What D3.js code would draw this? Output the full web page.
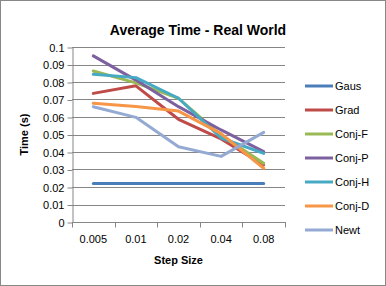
<!DOCTYPE html>
<html>
<head>
<meta charset="utf-8">
<script src="https://cdn.jsdelivr.net/npm/d3@7"></script>
<style>
  body { margin: 0; background: #fff; }
  svg { font-family: "Liberation Sans", Arial, sans-serif; }
  .axis path, .axis line { stroke: #868686; }
  .axis text { font-size: 11px; fill: #000; }
</style>
</head>
<body>
<div id="chart"></div>
<script>
// Step sizes (categories)
const steps = ["0.005", "0.01", "0.02", "0.04", "0.08"];

// Series values
const gaus  = [0.022, 0.022, 0.022, 0.022, 0.022];
const grad  = [0.0735, 0.0778, 0.0587, 0.0475, 0.0326];
const conjF = [0.0863, 0.0795, 0.0707, 0.0495, 0.0335];
const conjP = [0.0949, 0.0811, 0.0659, 0.0526, 0.0402];
const conjH = [0.0844, 0.0825, 0.0707, 0.0480, 0.0392];
const conjD = [0.0678, 0.0660, 0.0634, 0.0505, 0.0307];
const newt  = [0.0659, 0.0598, 0.0430, 0.0375, 0.0512];

const yTicks = [0, 0.01, 0.02, 0.03, 0.04, 0.05, 0.06, 0.07, 0.08, 0.09, 0.1];

const series = [
    {name: "Gaus",   values: gaus,  color: "#4A7EBB"},
    {name: "Grad",   values: grad,  color: "#BE4B48"},
    {name: "Conj-F", values: conjF, color: "#98B954"},
    {name: "Conj-P", values: conjP, color: "#7D60A0"},
    {name: "Conj-H", values: conjH, color: "#46AAC5"},
    {name: "Conj-D", values: conjD, color: "#F79646"},
    {name: "Newt",   values: newt,  color: "#94AAD2"}
];

const W = 386, H = 286;
const plot = {left: 72, right: 285, top: 47, bottom: 222};

const svg = d3.select("#chart")
    .append("svg")
    .attr("width", W)
    .attr("height", H);

// outer frame
svg.append("rect")
    .attr("x", 0.5).attr("y", 0.5)
    .attr("width", W - 1).attr("height", H - 1)
    .attr("fill", "#fff")
    .attr("stroke", "#888");

const x = d3.scaleBand()
    .domain(steps)
    .range([plot.left, plot.right]);

const y = d3.scaleLinear()
    .domain([0, 0.1])
    .range([plot.bottom, plot.top]);

// gridlines
svg.append("g")
    .selectAll("line")
    .data(yTicks.slice(1))
    .enter()
    .append("line")
    .attr("x1", plot.left).attr("x2", plot.right)
    .attr("y1", d => Math.round(y(d)) + 0.5)
    .attr("y2", d => Math.round(y(d)) + 0.5)
    .style("stroke", "#868686");

// y axis
const yAxis = svg.append("g")
    .attr("class", "axis")
    .attr("transform", `translate(${plot.left + 0.5},0.5)`)
    .call(d3.axisLeft(y).tickValues(yTicks).tickSize(5).tickSizeOuter(0)
        .tickFormat(d => d === 0 ? "0" : d3.format(".2~f")(d)));
yAxis.selectAll("text").attr("x", -8);

// x axis with ticks at band boundaries
const xAxis = svg.append("g")
    .attr("class", "axis")
    .attr("transform", `translate(0,${plot.bottom + 0.5})`);
xAxis.append("line")
    .attr("x1", plot.left).attr("x2", plot.right + 1)
    .attr("y1", 0).attr("y2", 0);
const edges = steps.map(s => x(s)).concat([plot.right]);
xAxis.selectAll(".tk")
    .data(edges)
    .enter()
    .append("line")
    .attr("x1", d => Math.round(d) + 0.5).attr("x2", d => Math.round(d) + 0.5)
    .attr("y1", 0).attr("y2", 5);
xAxis.selectAll(".lbl")
    .data(steps)
    .enter()
    .append("text")
    .attr("x", d => x(d) + x.bandwidth() / 2)
    .attr("y", 20)
    .attr("text-anchor", "middle")
    .text(d => d);

// lines
const line = d3.line()
    .x((d, i) => x(steps[i]) + x.bandwidth() / 2)
    .y(d => y(d));

svg.append("g")
    .selectAll("path")
    .data(series)
    .enter()
    .append("path")
    .attr("d", d => line(d.values))
    .attr("fill", "none")
    .attr("stroke", d => d.color)
    .attr("stroke-width", 3)
    .attr("stroke-linejoin", "round")
    .attr("stroke-linecap", "round");

// title
svg.append("text")
    .attr("x", 198).attr("y", 35)
    .attr("text-anchor", "middle")
    .style("font-size", "14px")
    .style("font-weight", "bold")
    .text("Average Time - Real World");

// axis titles
svg.append("text")
    .attr("transform", `translate(28,${(plot.top + plot.bottom) / 2}) rotate(-90)`)
    .attr("text-anchor", "middle")
    .style("font-size", "11px")
    .style("font-weight", "bold")
    .text("Time (s)");

svg.append("text")
    .attr("x", (plot.left + plot.right) / 2).attr("y", 264)
    .attr("text-anchor", "middle")
    .style("font-size", "11px")
    .style("font-weight", "bold")
    .text("Step Size");

// legend
const legend = svg.append("g")
    .selectAll("g")
    .data(series)
    .enter()
    .append("g")
    .attr("transform", (d, i) => `translate(305,${86 + i * 24})`);
legend.append("line")
    .attr("x1", 0).attr("x2", 28)
    .attr("stroke", d => d.color)
    .attr("stroke-width", 3);
legend.append("text")
    .attr("x", 30).attr("y", 4)
    .style("font-size", "11px")
    .text(d => d.name);
</script>
</body>
</html>
